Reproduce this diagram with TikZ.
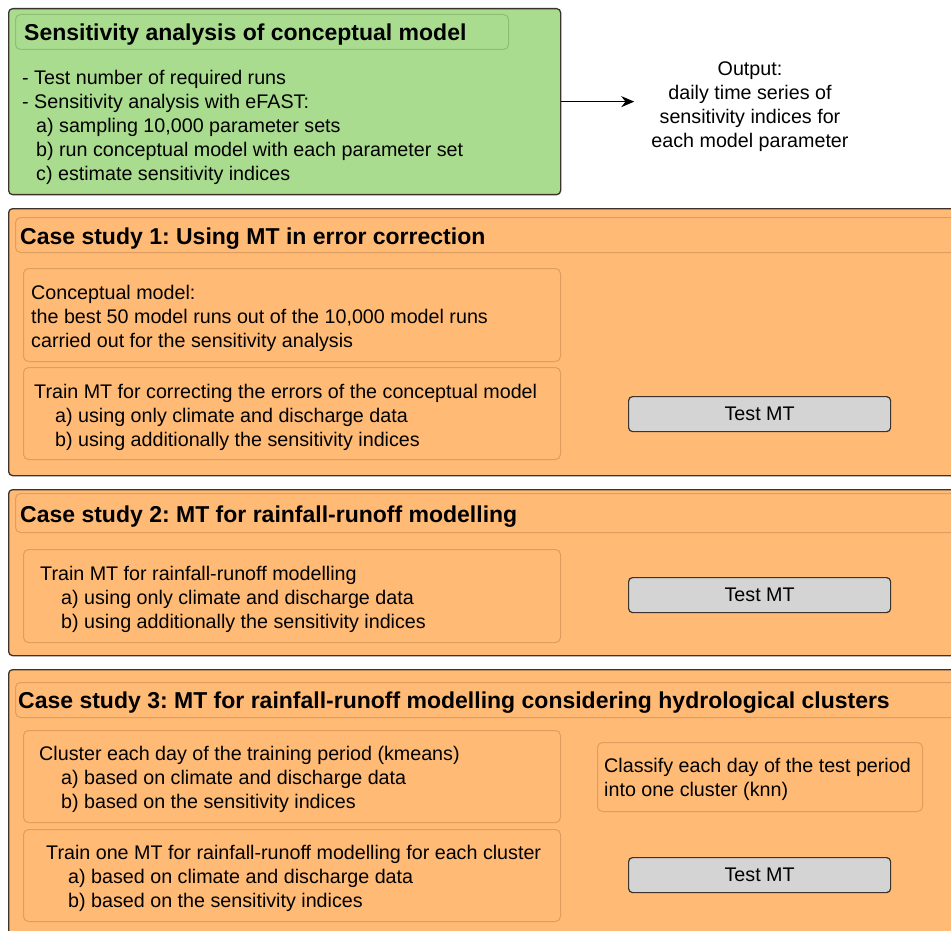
\documentclass[tikz,border=0pt]{standalone}
\usepackage{fontspec}
\setmainfont{Liberation Sans}
\usetikzlibrary{arrows.meta}
\definecolor{sagreen}{RGB}{169,220,142}
\definecolor{sagreenline}{RGB}{140,190,115}
\definecolor{csorange}{RGB}{255,186,117}
\definecolor{csline}{RGB}{222,158,96}
\definecolor{boxedge}{RGB}{60,52,44}
\definecolor{testgray}{RGB}{212,212,212}
\frenchspacing

\begin{document}
\begin{tikzpicture}[x=1pt,y=-1pt]
    \tikzstyle{outer}=[rectangle, draw=boxedge, line width=1.3pt, rounded corners=4pt, anchor=north west, inner sep=0pt]
    \tikzstyle{inner}=[rectangle, draw=csline, line width=1pt, rounded corners=5pt, anchor=north west, inner sep=0pt]
    \tikzstyle{head}=[inner]
    \tikzstyle{testmt}=[rectangle, draw=boxedge, fill=testgray, line width=1.2pt, rounded corners=4pt, anchor=north west, minimum width=262, minimum height=35, inner sep=0pt, font=\fontsize{19.7}{24}\selectfont]
    \tikzstyle{txt}=[anchor=west, align=left, inner sep=0pt, yshift=-2.5pt, font=\fontsize{19.7}{24.2}\selectfont]
    \tikzstyle{ttl}=[anchor=west, inner sep=0pt, yshift=-2.5pt, font=\fontsize{23}{26}\selectfont\bfseries]
    \clip (0,0) rectangle (951,931);
    % sensitivity analysis
    \node[outer, fill=sagreen, minimum width=552, minimum height=186] (sa) at (8,8) {};
    \node[head, draw=sagreenline, minimum width=493, minimum height=35] (sa-h) at (15,14) {};
    \node[ttl] (sa-t) at (24,32) {Sensitivity analysis of conceptual model};
    \node[txt] (sa-b) at (22,125) {- Test number of required runs\\- Sensitivity analysis with eFAST:\\\hspace*{14pt}a) sampling 10,000 parameter sets\\\hspace*{14pt}b) run conceptual model with each parameter set\\\hspace*{14pt}c) estimate sensitivity indices};
    \node[txt, anchor=center, align=center, inner xsep=17pt] (out) at (750,104) {Output:\\daily time series of\\sensitivity indices for\\each model parameter};
    \draw[line width=1.5pt, -{Stealth[length=13pt,width=11pt]}] (sa.east) -- (sa.east -| out.west);
    % case study 1
    \node[outer, fill=csorange, minimum width=960, minimum height=267] (cs1) at (8,208) {};
    \node[head, minimum width=960, minimum height=35] (cs1-h) at (15,217) {};
    \node[ttl] (cs1-t) at (20,236) {Case study 1: Using MT in error correction};
    \node[inner, minimum width=537, minimum height=93] (cs1-a) at (23,268) {};
    \node[txt] at (31,316) {Conceptual model:\\the best 50 model runs out of the 10,000 model runs\\carried out for the sensitivity analysis};
    \node[inner, minimum width=537, minimum height=92] (cs1-b) at (23,367) {};
    \node[txt] at (34,415) {Train MT for correcting the errors of the conceptual model\\\hspace*{21pt}a) using only climate and discharge data\\\hspace*{21pt}b) using additionally the sensitivity indices};
    \node[testmt] (cs1-test) at (628,396) {Test MT};
    % case study 2
    \node[outer, fill=csorange, minimum width=960, minimum height=166] (cs2) at (8,489) {};
    \node[head, minimum width=960, minimum height=39] (cs2-h) at (15,493) {};
    \node[ttl] (cs2-t) at (20,514) {Case study 2: MT for rainfall-runoff modelling};
    \node[inner, minimum width=537, minimum height=93] (cs2-a) at (23,549) {};
    \node[txt] at (40,597) {Train MT for rainfall-runoff modelling\\\hspace*{21pt}a) using only climate and discharge data\\\hspace*{21pt}b) using additionally the sensitivity indices};
    \node[testmt] (cs2-test) at (628,577) {Test MT};
    % case study 3
    \node[outer, fill=csorange, minimum width=960, minimum height=300] (cs3) at (8,669) {};
    \node[head, minimum width=960, minimum height=35] (cs3-h) at (15,682) {};
    \node[ttl] (cs3-t) at (18,700) {Case study 3: MT for rainfall-runoff modelling considering hydrological clusters};
    \node[inner, minimum width=537, minimum height=92] (cs3-a) at (23,730) {};
    \node[txt] at (39,777) {Cluster each day of the training period (kmeans)\\\hspace*{22pt}a) based on climate and discharge data\\\hspace*{22pt}b) based on the sensitivity indices};
    \node[inner, minimum width=325, minimum height=69] (cs3-c) at (597,742) {};
    \node[txt] at (604,777) {Classify each day of the test period\\into one cluster (knn)};
    \node[inner, minimum width=537, minimum height=92] (cs3-b) at (23,829) {};
    \node[txt] at (46,876) {Train one MT for rainfall-runoff modelling for each cluster\\\hspace*{22pt}a) based on climate and discharge data\\\hspace*{22pt}b) based on the sensitivity indices};
    \node[testmt] (cs3-test) at (628,857) {Test MT};
\end{tikzpicture}
\end{document}
